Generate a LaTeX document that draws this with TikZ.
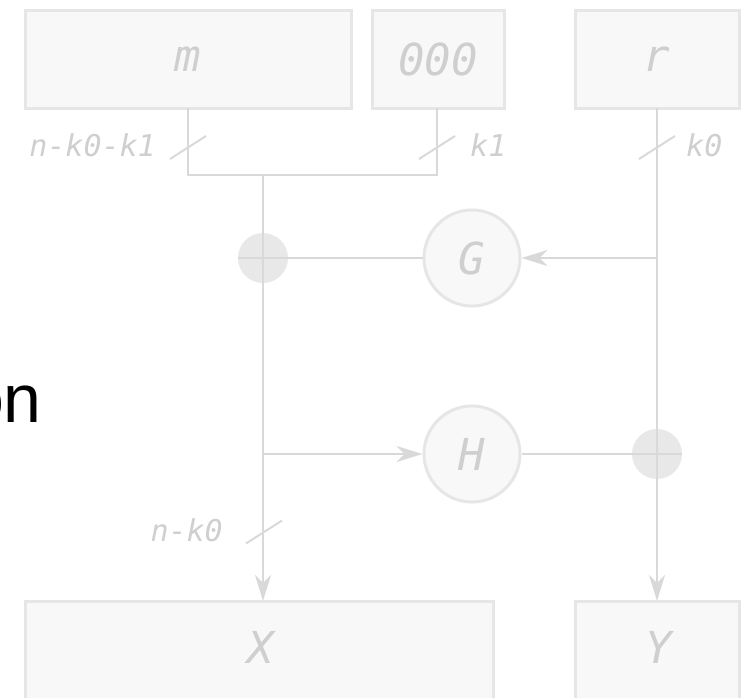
\documentclass[tikz,border=0pt]{standalone}
\usepackage{fontspec}
\setmainfont{Liberation Sans}
\newfontfamily\dmono{DejaVu Sans Mono}
\usetikzlibrary{arrows.meta}
\definecolor{linecol}{HTML}{D9D9D9}
\definecolor{boxdraw}{HTML}{E6E6E6}
\definecolor{boxfill}{HTML}{F8F8F8}
\definecolor{txtcol}{HTML}{CFCFCF}
\definecolor{xorfill}{HTML}{E8E8E8}
\tikzset{
  blk/.style={draw=boxdraw, fill=boxfill, line width=3pt, rectangle, inner sep=0pt,
    font=\dmono\itshape\fontsize{44}{48}\selectfont, text=txtcol},
  fn/.style={draw=boxdraw, fill=boxfill, line width=3pt, circle, inner sep=0pt, minimum size=96pt,
    font=\dmono\itshape\fontsize{44}{48}\selectfont, text=txtcol},
  xorc/.style={fill=xorfill, circle, inner sep=0pt, minimum size=50pt},
  wire/.style={draw=linecol, line width=2pt},
  arr/.style={wire, -{Stealth[length=26pt,width=16pt,inset=8pt]}},
  lbl/.style={font=\dmono\itshape\fontsize{30}{34}\selectfont, text=txtcol, inner sep=0pt},
}
\begin{document}
\begin{tikzpicture}[x=1pt,y=-1pt]
\useasboundingbox (0,0) rectangle (741,697);
% boxes
\node[blk, minimum width=326pt, minimum height=98pt] (m) at (188,59) {m};
\node[blk, minimum width=132pt, minimum height=98pt] (z) at (438,59) {000};
\node[blk, minimum width=164pt, minimum height=98pt] (r) at (657,59) {r};
\node[blk, minimum width=468pt, minimum height=120pt] (X) at (259,661) {};
\node[blk, minimum width=164pt, minimum height=120pt] (Y) at (657,661) {};
\node[font=\dmono\itshape\fontsize{44}{48}\selectfont, text=txtcol, inner sep=0pt] (Xt) at (261,647) {X};
\node[font=\dmono\itshape\fontsize{44}{48}\selectfont, text=txtcol, inner sep=0pt] (Yt) at (659,647) {Y};
% xor circles
\node[xorc] (x1) at (263,258) {};
\node[xorc] (x2) at (657,454) {};
% hash functions
\node[fn] (G) at (472,258) {G};
\node[fn] (H) at (472,454) {H};
% junction coordinates
\coordinate (mj) at (188,175);
\coordinate (zj) at (437,175);
\coordinate (j) at (263,175);
\coordinate (rg) at (657,258);
\coordinate (hs) at (263,454);
% wires
\draw[wire] (188,108) -- (mj) -- (zj) -- (437,108);
\draw[arr] (j) -- (263,601);
\draw[arr] (657,108) -- (657,601);
\draw[arr] (rg) -- (G.east);
\draw[wire] (G.west) -- (x1.west);
\draw[arr] (hs) -- (H.west);
\draw[wire] (H.east) -- (x2.east);
% slashes
\draw[wire] (188,147.5) ++(-18,11.5) -- ++(36,-23);
\draw[wire] (437,147.5) ++(-18,11.5) -- ++(36,-23);
\draw[wire] (657,147.5) ++(-18,11.5) -- ++(36,-23);
\draw[wire] (264,532) ++(-18,11.5) -- ++(36,-23);
% labels
\node[lbl, anchor=east] (l1) at (156,145) {n-k0-k1};
\node[lbl, anchor=west] (l2) at (470,145) {k1};
\node[lbl, anchor=west] (l3) at (686,145) {k0};
\node[lbl, anchor=east] (l4) at (223,530) {n-k0};
% stray text
\node[anchor=base east, inner sep=0pt, font=\fontsize{68}{72}\selectfont] (on) at (42,422) {on};
\end{tikzpicture}
\end{document}
